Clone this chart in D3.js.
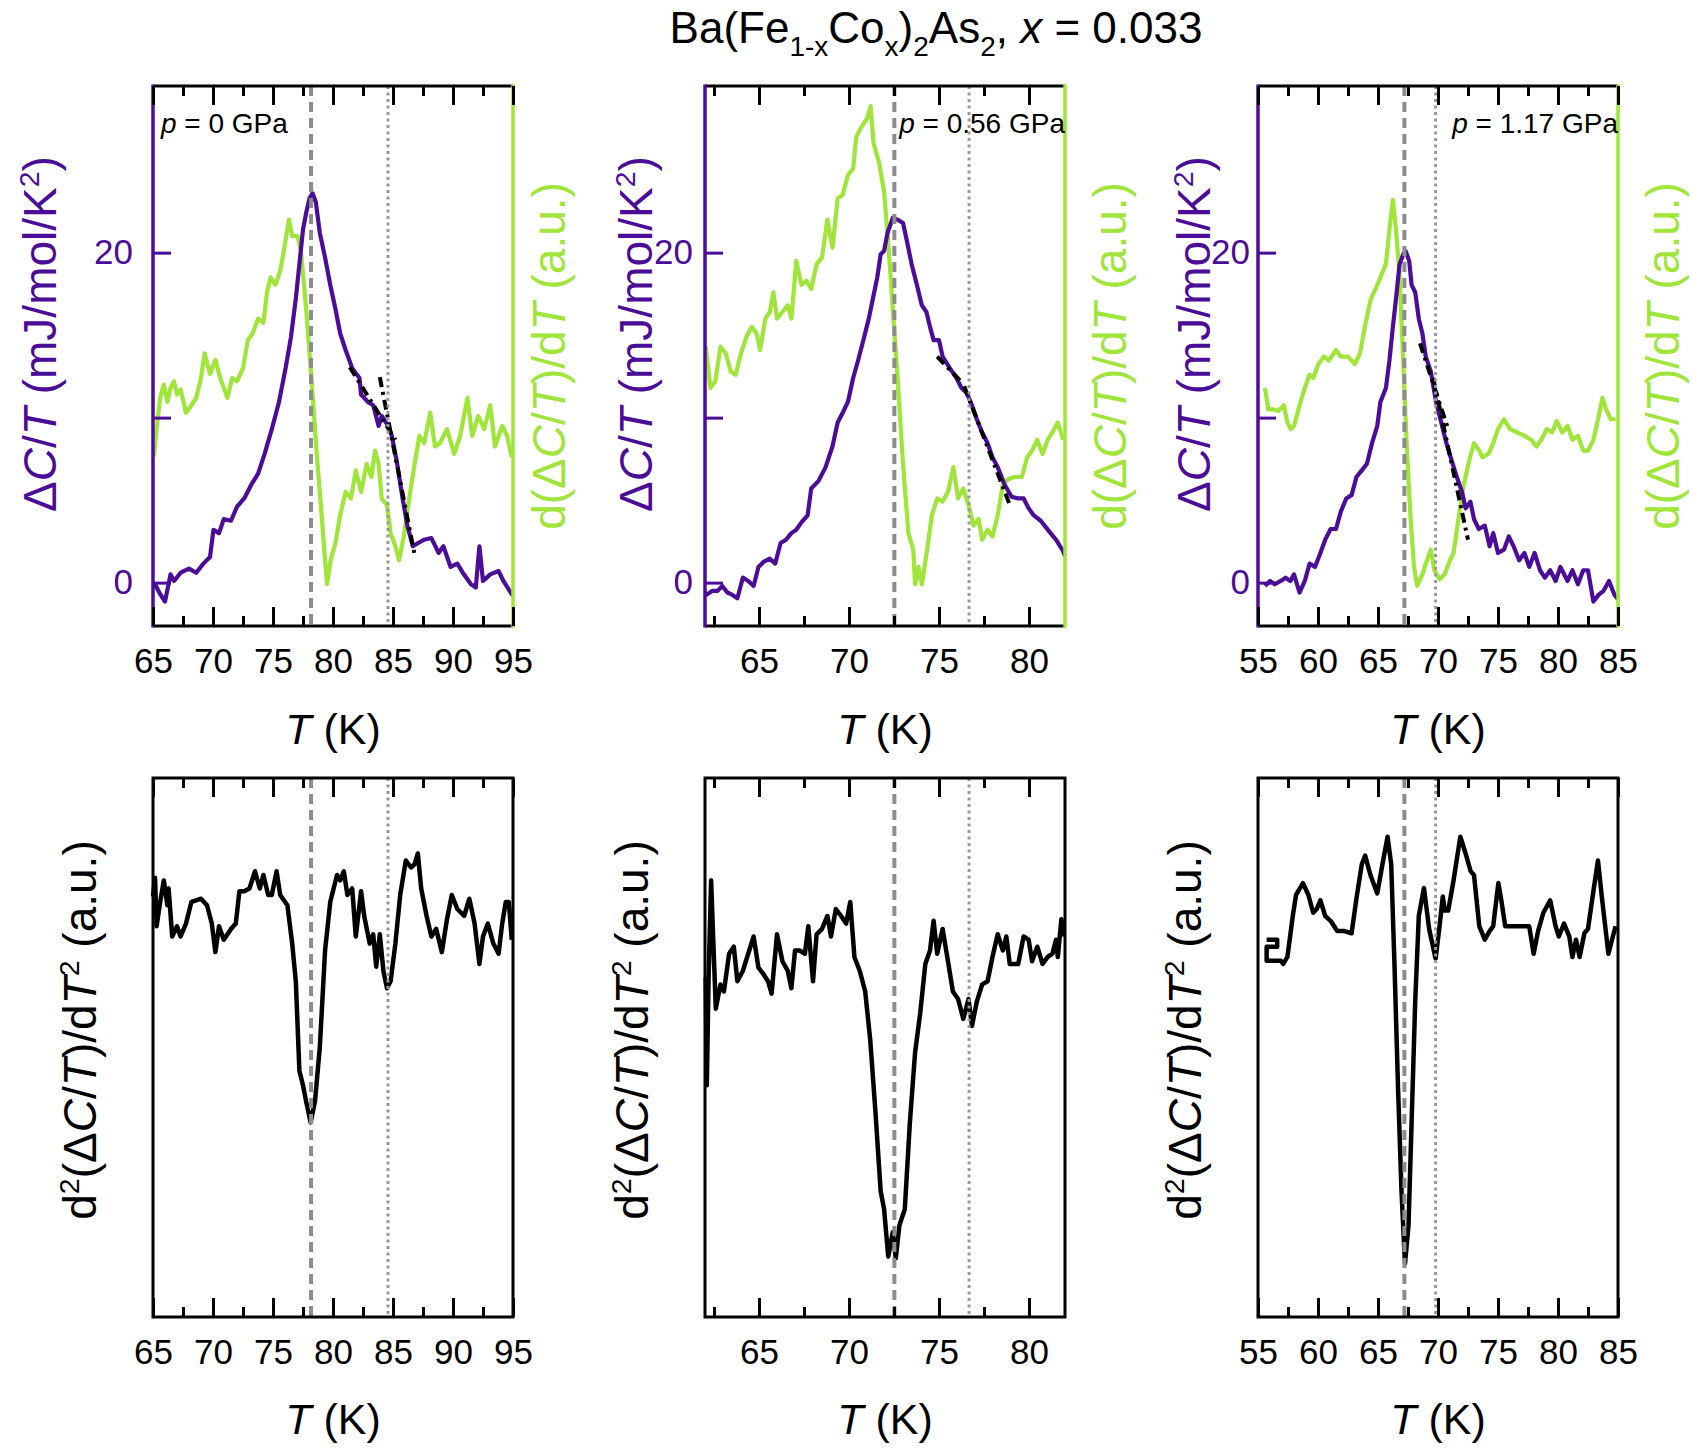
<!DOCTYPE html>
<html>
<head>
<meta charset="utf-8">
<script src="https://cdn.jsdelivr.net/npm/d3@7"></script>
<style>
  body { margin: 0; background: #fff; }
  svg { font-family: "Liberation Sans", Arial, Helvetica, sans-serif; }
</style>
</head>
<body>
<svg id="chart" width="1694" height="1448"></svg>
<script>
// temperature windows of the three pressures
const xDomains = [[65, 95], [62, 82], [55, 85]]
const pressures = ['0', '0.56', '1.17']
const tsDashed = [78.17, 72.52, 67.2]
const tsDotted = [84.58, 76.67, 69.8]
const yTicks = [0, 10, 20]

// ΔC/T (mJ/mol/K^2), p = 0
const dcT0 = [[65.0,-0.3],[65.17,-0.1],[65.6,-0.7],[66.0,-1.15],[66.46,0.5],[66.75,0.1],[67.3,0.6],[68.0,0.85],[68.6,0.6],[69.2,1.15],[69.75,1.55],[70.04,3.2],[70.5,3.0],[70.9,3.85],[71.5,3.75],[72.0,4.6],[72.6,5.1],[73.2,5.95],[73.76,6.6],[74.3,7.8],[74.9,9.3],[75.5,10.95],[76.05,13.0],[76.5,14.9],[76.9,17.2],[77.2,19.3],[77.5,21.4],[77.76,22.4],[78.05,23.3],[78.3,23.6],[78.57,23.05],[78.9,21.2],[79.34,19.7],[79.77,18.05],[80.2,16.6],[80.6,15.1],[81.05,14.1],[81.6,13.0],[82.2,12.4],[82.34,11.4],[82.9,10.95],[83.35,10.75],[83.8,9.5],[84.06,10.1],[84.5,9.6],[84.9,8.9],[85.35,7.2],[85.8,5.1],[86.2,3.45],[86.65,2.2],[87.1,2.4],[87.6,2.6],[88.2,2.7],[88.8,1.8],[89.2,2.2],[89.8,0.95],[90.36,1.15],[90.9,0.5],[91.5,-0.1],[91.9,-0.3],[92.2,2.2],[92.5,0.1],[93.1,0.5],[93.8,0.7],[94.2,0.1],[94.8,-0.6],[95.0,-0.8]]
// d(ΔC/T)/dT (a.u.), p = 0
const dDeriv0 = [[65.0,7.6],[65.1,7.8],[65.3,9.3],[65.6,11.2],[65.9,12.0],[66.2,10.95],[66.46,11.8],[66.75,12.2],[67.0,11.4],[67.3,11.7],[67.75,10.3],[68.2,10.75],[68.6,11.2],[69.0,12.4],[69.3,13.9],[69.75,12.65],[70.2,13.5],[70.6,12.4],[71.2,11.2],[71.6,12.4],[72.0,12.2],[72.5,13.0],[72.9,14.7],[73.3,15.1],[73.76,16.0],[74.2,15.75],[74.5,17.6],[74.8,18.5],[75.2,18.05],[75.6,18.9],[75.9,20.1],[76.33,22.0],[76.6,21.0],[77.05,21.0],[77.33,20.1],[77.76,16.6],[78.2,12.4],[78.6,8.25],[79.05,4.1],[79.5,-0.1],[79.8,1.35],[80.2,2.4],[80.6,4.1],[81.05,5.5],[81.5,5.1],[81.9,6.8],[82.34,5.5],[82.8,7.2],[83.2,6.4],[83.5,8.0],[83.8,7.2],[84.06,5.1],[84.5,4.7],[84.8,3.0],[85.2,2.2],[85.5,1.35],[85.9,2.8],[86.35,5.1],[86.8,7.2],[87.2,8.9],[87.6,8.45],[88.1,10.3],[88.5,8.25],[88.9,8.45],[89.5,9.3],[90.1,7.8],[90.6,8.9],[91.2,11.2],[91.6,8.9],[92.1,10.1],[92.6,9.3],[93.1,10.75],[93.5,8.25],[94.1,9.5],[94.5,8.9],[94.9,7.6]]
// d2(ΔC/T)/dT2 (a.u.), p = 0
const d2nd0 = [[65.0,0.78],[65.17,0.815],[65.3,0.725],[65.6,0.77],[65.9,0.81],[66.2,0.764],[66.3,0.795],[66.6,0.706],[67.0,0.725],[67.3,0.706],[67.75,0.73],[68.2,0.77],[68.6,0.773],[69.0,0.776],[69.5,0.764],[69.9,0.73],[70.2,0.677],[70.5,0.725],[70.9,0.7],[71.5,0.72],[71.9,0.73],[72.2,0.79],[72.6,0.79],[73.04,0.795],[73.5,0.827],[73.9,0.795],[74.2,0.82],[74.6,0.783],[74.9,0.783],[75.3,0.827],[75.6,0.783],[76.2,0.764],[76.6,0.693],[76.9,0.623],[77.2,0.457],[77.5,0.43],[77.76,0.4],[78.14,0.361],[78.5,0.4],[78.9,0.5],[79.34,0.68],[79.77,0.77],[80.05,0.795],[80.34,0.82],[80.6,0.81],[80.9,0.827],[81.2,0.783],[81.6,0.795],[81.9,0.706],[82.34,0.79],[82.6,0.744],[83.06,0.693],[83.35,0.71],[83.6,0.65],[83.9,0.71],[84.2,0.642],[84.5,0.61],[84.8,0.623],[85.2,0.693],[85.6,0.783],[86.07,0.847],[86.5,0.834],[86.8,0.84],[87.07,0.86],[87.35,0.795],[87.8,0.744],[88.2,0.706],[88.6,0.72],[89.07,0.677],[89.5,0.738],[89.9,0.783],[90.36,0.757],[90.93,0.744],[91.36,0.776],[91.8,0.73],[92.2,0.655],[92.5,0.706],[92.9,0.73],[93.36,0.693],[93.8,0.674],[94.1,0.73],[94.4,0.77],[94.65,0.77],[94.9,0.7]]

// p = 0.56 GPa
const dcT1 = [[62.0,-0.6],[62.1,-0.73],[62.4,-0.5],[62.7,-0.5],[62.96,-0.2],[63.24,-0.6],[63.5,-0.73],[63.8,-0.95],[64.1,0.3],[64.4,0.1],[64.7,-0.2],[64.97,0.95],[65.25,1.25],[65.6,1.45],[65.9,1.15],[66.2,2.4],[66.5,2.6],[66.8,3.0],[67.07,3.2],[67.36,3.65],[67.7,4.07],[67.9,5.7],[68.3,6.15],[68.7,7.0],[69.08,8.25],[69.37,9.7],[69.65,10.3],[69.94,10.95],[70.23,12.4],[70.5,13.45],[70.8,14.7],[71.1,16.0],[71.4,17.6],[71.57,18.5],[71.76,19.9],[71.95,20.1],[72.14,21.2],[72.43,22.1],[72.7,22.0],[73.0,21.8],[73.2,20.8],[73.48,19.3],[73.77,18.05],[74.05,16.8],[74.3,16.4],[74.5,15.5],[74.7,14.7],[75.0,14.7],[75.2,13.7],[75.6,13.0],[75.97,12.4],[76.25,11.8],[76.54,11.5],[76.83,10.75],[77.1,9.9],[77.4,9.1],[77.7,8.45],[77.97,7.6],[78.26,7.0],[78.64,5.95],[79.03,5.2],[79.4,5.1],[79.7,5.1],[79.98,4.5],[80.27,4.07],[80.65,3.75],[80.94,3.35],[81.2,3.0],[81.5,2.6],[81.9,1.9],[82.0,1.6]]
const dDeriv1 = [[62.04,14.3],[62.3,11.8],[62.57,12.2],[62.86,14.3],[63.15,13.9],[63.43,12.8],[63.7,12.6],[64.0,13.9],[64.3,14.9],[64.6,15.5],[64.87,15.1],[65.06,14.1],[65.35,16.0],[65.6,16.4],[65.8,17.6],[66.0,16.0],[66.3,16.4],[66.6,16.8],[66.8,16.0],[67.07,19.5],[67.36,18.05],[67.64,18.3],[67.9,17.8],[68.2,19.3],[68.5,19.7],[68.8,22.0],[69.08,20.3],[69.37,23.3],[69.65,23.5],[69.94,24.7],[70.23,25.1],[70.4,27.0],[70.7,27.65],[71.0,28.1],[71.2,28.9],[71.37,26.6],[71.66,25.5],[71.95,23.7],[72.24,19.7],[72.5,15.5],[72.7,12.4],[73.0,7.2],[73.3,3.0],[73.57,2.0],[73.67,-0.1],[73.86,0.95],[74.05,-0.1],[74.34,2.0],[74.6,4.07],[74.9,5.1],[75.2,4.9],[75.5,5.5],[75.8,7.0],[76.06,5.1],[76.35,5.7],[76.64,4.7],[76.92,3.45],[77.2,3.85],[77.4,2.6],[77.7,3.2],[77.97,2.8],[78.26,4.07],[78.55,5.95],[78.84,6.26],[79.2,6.4],[79.6,6.4],[79.9,7.6],[80.17,8.0],[80.46,8.66],[80.75,7.8],[81.04,8.66],[81.3,9.1],[81.6,9.7],[81.9,8.66]]
const d2nd1 = [[62.04,0.63],[62.1,0.43],[62.2,0.63],[62.34,0.81],[62.48,0.68],[62.6,0.572],[62.86,0.617],[63.05,0.604],[63.34,0.674],[63.6,0.687],[63.8,0.623],[64.1,0.642],[64.4,0.674],[64.7,0.706],[64.97,0.648],[65.25,0.636],[65.5,0.623],[65.7,0.6],[66.0,0.71],[66.3,0.66],[66.6,0.642],[66.8,0.61],[67.0,0.68],[67.26,0.68],[67.55,0.674],[67.74,0.725],[68.0,0.623],[68.2,0.71],[68.5,0.72],[68.8,0.744],[69.0,0.706],[69.27,0.757],[69.56,0.744],[69.84,0.73],[70.07,0.77],[70.3,0.668],[70.6,0.642],[70.9,0.604],[71.18,0.514],[71.47,0.38],[71.76,0.233],[71.95,0.2],[72.18,0.112],[72.43,0.157],[72.6,0.109],[72.8,0.17],[73.1,0.2],[73.38,0.36],[73.67,0.49],[73.96,0.565],[74.24,0.655],[74.5,0.68],[74.7,0.735],[74.9,0.674],[75.2,0.72],[75.5,0.66],[75.77,0.604],[76.06,0.59],[76.35,0.553],[76.64,0.59],[76.83,0.54],[77.1,0.585],[77.4,0.617],[77.7,0.623],[77.97,0.668],[78.26,0.71],[78.55,0.68],[78.74,0.706],[78.93,0.655],[79.4,0.655],[79.7,0.706],[79.98,0.7],[80.17,0.66],[80.46,0.687],[80.75,0.655],[81.04,0.668],[81.3,0.674],[81.5,0.7],[81.6,0.668],[81.8,0.738],[81.93,0.706]]

// p = 1.17 GPa
const dcT2 = [[55.58,-0.2],[56.0,0.1],[56.4,-0.1],[56.9,0.1],[57.3,0.3],[57.7,0.1],[58.0,0.5],[58.46,-0.6],[58.9,0.1],[59.3,1.15],[59.75,0.95],[60.2,1.8],[60.6,2.6],[61.05,3.25],[61.5,3.25],[61.9,4.3],[62.35,5.1],[62.8,5.3],[63.2,6.4],[63.65,6.8],[64.08,7.2],[64.5,8.45],[64.94,9.5],[65.2,10.95],[65.66,11.8],[65.95,13.45],[66.24,15.5],[66.5,17.2],[66.8,19.3],[67.1,19.9],[67.3,20.1],[67.6,19.5],[67.8,18.05],[68.1,17.6],[68.4,16.0],[68.7,15.1],[68.98,13.7],[69.4,12.8],[69.84,10.95],[70.27,9.7],[70.7,8.45],[71.14,7.4],[71.57,6.4],[72.0,5.5],[72.3,4.5],[72.7,4.9],[73.0,3.85],[73.4,3.25],[73.9,3.45],[74.3,2.2],[74.6,3.0],[75.0,1.8],[75.5,2.0],[75.9,2.8],[76.3,2.2],[76.76,1.35],[77.2,1.8],[77.6,0.95],[78.05,1.8],[78.5,0.75],[78.9,0.3],[79.35,0.75],[79.8,0.1],[80.2,0.95],[80.8,0.1],[81.2,0.75],[81.66,-0.1],[82.1,0.75],[82.5,0.75],[82.95,-1.15],[83.4,-0.73],[83.8,-0.5],[84.25,0.1],[84.7,-0.73],[85.0,-1.0]]
const dDeriv2 = [[55.58,11.8],[55.86,10.5],[56.3,10.5],[56.7,10.4],[57.16,10.75],[57.45,9.7],[57.74,9.3],[58.0,9.5],[58.46,10.75],[58.9,11.8],[59.3,12.6],[59.6,12.4],[60.04,13.25],[60.5,13.7],[60.9,13.45],[61.5,14.1],[61.9,13.7],[62.5,13.7],[63.07,13.25],[63.5,13.9],[63.9,15.5],[64.4,17.2],[64.8,17.8],[65.2,18.5],[65.66,19.3],[65.95,21.4],[66.24,23.2],[66.5,21.4],[66.8,18.5],[67.1,13.45],[67.4,8.25],[67.7,4.07],[68.0,0.95],[68.26,-0.2],[68.7,0.5],[68.98,1.15],[69.4,2.0],[69.7,0.75],[70.13,0.2],[70.56,0.5],[71.0,1.35],[71.3,1.8],[71.7,3.85],[72.15,5.95],[72.6,7.4],[73.0,8.45],[73.44,8.0],[73.7,7.6],[74.2,7.8],[74.6,8.45],[75.0,9.3],[75.5,9.9],[76.0,9.3],[76.6,9.1],[77.2,8.9],[77.77,8.66],[78.2,8.25],[78.6,8.66],[79.06,9.3],[79.5,9.1],[79.9,9.8],[80.36,9.1],[80.8,9.5],[81.2,8.66],[81.66,8.9],[82.1,8.0],[82.5,8.0],[82.95,8.66],[83.4,10.1],[83.7,11.2],[84.0,10.5],[84.4,9.9],[84.8,9.9]]
const d2nd2 = [[55.72,0.70],[56.6,0.70],[56.6,0.687],[55.72,0.687],[55.72,0.661],[56.9,0.661],[57.1,0.655],[57.45,0.668],[57.9,0.744],[58.17,0.783],[58.75,0.805],[59.2,0.783],[59.6,0.75],[59.9,0.757],[60.2,0.773],[60.6,0.744],[61.05,0.735],[61.6,0.716],[62.2,0.716],[62.8,0.712],[63.2,0.776],[63.65,0.84],[63.93,0.856],[64.37,0.82],[64.94,0.786],[65.37,0.84],[65.8,0.891],[66.1,0.84],[66.38,0.649],[66.67,0.425],[66.96,0.233],[67.25,0.099],[67.54,0.169],[67.8,0.361],[68.1,0.585],[68.4,0.744],[68.83,0.796],[69.27,0.719],[69.8,0.665],[70.13,0.725],[70.4,0.78],[70.56,0.754],[70.85,0.754],[71.28,0.808],[71.86,0.891],[72.3,0.86],[72.72,0.827],[73.0,0.82],[73.44,0.725],[73.9,0.7],[74.3,0.716],[74.6,0.725],[75.03,0.805],[75.3,0.77],[75.6,0.725],[76.47,0.725],[77.6,0.725],[77.97,0.674],[78.34,0.716],[78.78,0.75],[79.35,0.773],[79.8,0.725],[80.07,0.706],[80.5,0.73],[80.94,0.706],[81.2,0.668],[81.5,0.7],[81.8,0.668],[82.2,0.712],[82.5,0.72],[82.95,0.79],[83.33,0.847],[83.67,0.776],[84.2,0.674],[84.5,0.7],[84.8,0.725]]

// linear fits above and below the structural transition
const fitsA = [[[81.4, 13.05], [85.2, 8.65]], [[74.9, 13.7], [76.3, 12.1]], [[68.5, 14.5], [70.8, 9.4]]]
const fitsB = [[[83.9, 12.45], [86.8, 1.7]], [[76.4, 11.9], [78.9, 4.8]], [[69.6, 12.4], [72.5, 2.6]]]

const dcT = [dcT0, dcT1, dcT2]
const dDeriv = [dDeriv0, dDeriv1, dDeriv2]
const d2nd = [d2nd0, d2nd1, d2nd2]

// layout
const purple = '#4b0c97'
const green = '#9fe53a'
const grey = '#8c8c8c'
const lefts = [153, 705, 1258]
const plotW = 360
const topRow = [86, 626]
const botRow = [778, 1317]
const yLabelPad = [20, 12, 8]
const purpleLabelX = [56, 652, 1210]
const greenLabelX = [565, 1126, 1679]

const svg = d3.select('#chart')

// title
const title = svg.append('text')
	.attr('x', 936).attr('y', 43)
	.attr('text-anchor', 'middle').attr('font-size', 44)
const titleParts = [
	['Ba(Fe', 0], ['1-x', 1], ['Co', 0], ['x', 1], [')', 0], ['2', 1], ['As', 0], ['2', 1], [', ', 0], ['x', 2], [' = 0.033', 0]
]
let shifted = false
titleParts.forEach(([t, kind]) => {
	const ts = title.append('tspan').text(t)
	if (kind === 1) {
		ts.attr('font-size', 28).attr('dy', shifted ? 0 : 13)
		shifted = true
	} else {
		if (shifted) ts.attr('dy', -13)
		shifted = false
		if (kind === 2) ts.attr('font-style', 'italic')
	}
})

function richText(sel, parts, size) {
	let sup = false
	parts.forEach(([t, kind]) => {
		const ts = sel.append('tspan').text(t)
		if (kind === 'sup') {
			ts.attr('font-size', size * 0.62).attr('dy', -size * 0.38)
			sup = true
		} else {
			if (sup) ts.attr('dy', size * 0.38)
			sup = false
			if (kind === 'it') ts.attr('font-style', 'italic')
		}
	})
}

function xTicks(d) {
	const all = d3.range(Math.ceil(d[0] / 2.5) * 2.5, d[1] + 1e-9, 2.5)
	return { major: all.filter(v => v % 5 === 0), minor: all.filter(v => v % 5 !== 0) }
}

function xAxes(g, x, rows) {
	const t = xTicks(x.domain())
	const fix = a => a.call(s => s.select('.domain').remove())
		.call(s => s.selectAll('.tick line').attr('stroke-width', 3))
		.attr('font-size', 35).attr('font-family', null).style('color', '#000')
	fix(g.append('g').attr('transform', `translate(0,${rows[1]})`)
		.call(d3.axisBottom(x).tickValues(t.major).tickSizeInner(-19).tickSizeOuter(0).tickPadding(22)))
	fix(g.append('g').attr('transform', `translate(0,${rows[1]})`)
		.call(d3.axisBottom(x).tickValues(t.minor).tickSizeInner(-10).tickSizeOuter(0).tickFormat('')))
	fix(g.append('g').attr('transform', `translate(0,${rows[0]})`)
		.call(d3.axisTop(x).tickValues(t.major).tickSizeInner(-19).tickSizeOuter(0).tickFormat('')))
	fix(g.append('g').attr('transform', `translate(0,${rows[0]})`)
		.call(d3.axisTop(x).tickValues(t.minor).tickSizeInner(-10).tickSizeOuter(0).tickFormat('')))
}

function markers(g, x, rows, i) {
	g.append('line')
		.attr('x1', x(tsDashed[i])).attr('x2', x(tsDashed[i]))
		.attr('y1', rows[0]).attr('y2', rows[1])
		.attr('stroke', grey).attr('stroke-width', 4).attr('stroke-dasharray', '10,6')
	g.append('line')
		.attr('x1', x(tsDotted[i])).attr('x2', x(tsDotted[i]))
		.attr('y1', rows[0]).attr('y2', rows[1])
		.attr('stroke', '#999').attr('stroke-width', 3).attr('stroke-dasharray', '3,3.5')
}

function xTitle(g, x, yBase) {
	const t = g.append('text').attr('x', (x.range()[0] + x.range()[1]) / 2).attr('y', yBase)
		.attr('text-anchor', 'middle').attr('font-size', 43)
	richText(t, [['T', 'it'], [' (K)', '']], 43)
}

for (let i = 0; i < 3; i++) {
	const x = d3.scaleLinear().domain(xDomains[i]).range([lefts[i], lefts[i] + plotW])
	const y = d3.scaleLinear().domain([-2.63, 30.1]).range([topRow[1], topRow[0]])
	const y2 = d3.scaleLinear().domain([-2.63, 30.1]).range([topRow[1], topRow[0]])
	const yb = d3.scaleLinear().domain([0, 1]).range([botRow[1], botRow[0]])

	// ---- upper panel ----
	const top = svg.append('g')
	top.append('path').datum(dDeriv[i])
		.attr('d', d3.line().x(d => x(d[0])).y(d => y2(d[1])))
		.attr('fill', 'none').attr('stroke', green).attr('stroke-width', 4.2).attr('stroke-linejoin', 'round')
	top.append('path').datum(dcT[i])
		.attr('d', d3.line().x(d => x(d[0])).y(d => y(d[1])))
		.attr('fill', 'none').attr('stroke', purple).attr('stroke-width', 4.2).attr('stroke-linejoin', 'round')
	;[fitsA[i], fitsB[i]].forEach(f => {
		top.append('path').datum(f)
			.attr('d', d3.line().x(d => x(d[0])).y(d => y(d[1])))
			.attr('fill', 'none').attr('stroke', '#000').attr('stroke-width', 4)
			.attr('stroke-dasharray', '10,5,3,5')
	})
	markers(top, x, topRow, i)

	// frame
	top.append('line').attr('x1', x.range()[0]).attr('x2', x.range()[1]).attr('y1', topRow[0]).attr('y2', topRow[0])
		.attr('stroke', '#000').attr('stroke-width', 3)
	top.append('line').attr('x1', x.range()[0]).attr('x2', x.range()[1]).attr('y1', topRow[1]).attr('y2', topRow[1])
		.attr('stroke', '#000').attr('stroke-width', 3)
	top.append('line').attr('x1', x.range()[0]).attr('x2', x.range()[0]).attr('y1', topRow[0] - 1.5).attr('y2', topRow[1] + 1.5)
		.attr('stroke', purple).attr('stroke-width', 3.5)
	top.append('line').attr('x1', x.range()[1]).attr('x2', x.range()[1]).attr('y1', topRow[0] - 1.5).attr('y2', topRow[1] + 1.5)
		.attr('stroke', green).attr('stroke-width', 3.5)

	xAxes(top, x, topRow)
	top.append('g').attr('transform', `translate(${x.range()[0]},0)`)
		.call(d3.axisLeft(y).tickValues(yTicks).tickSizeInner(-18).tickSizeOuter(0)
			.tickPadding(yLabelPad[i]).tickFormat(d => d === 10 ? '' : d))
		.call(s => s.select('.domain').remove())
		.call(s => s.selectAll('.tick line').attr('stroke-width', 3))
		.attr('font-size', 35).attr('font-family', null).style('color', purple)

	xTitle(top, x, 744)

	const pl = top.append('text').attr('y', 133).attr('font-size', 28)
	if (i === 0) pl.attr('x', x.range()[0] + 8)
	else pl.attr('x', x.range()[1]).attr('text-anchor', 'end')
	richText(pl, [['p', 'it'], [` = ${pressures[i]} GPa`, '']], 28)

	const ly = top.append('text').attr('font-size', 46).attr('fill', purple).attr('text-anchor', 'middle')
		.attr('transform', `translate(${purpleLabelX[i]},334) rotate(-90)`)
	richText(ly, [['Δ', ''], ['C', 'it'], ['/', ''], ['T', 'it'], [' (mJ/mol/K', ''], ['2', 'sup'], [')', '']], 46)

	const ry = top.append('text').attr('font-size', 46).attr('fill', green).attr('text-anchor', 'middle')
		.attr('transform', `translate(${greenLabelX[i]},356) rotate(-90)`)
	richText(ry, [['d(Δ', ''], ['C', 'it'], ['/', ''], ['T', 'it'], [')/d', ''], ['T', 'it'], [' (a.u.)', '']], 46)

	// ---- lower panel ----
	const bot = svg.append('g')
	bot.append('path').datum(d2nd[i])
		.attr('d', d3.line().x(d => x(d[0])).y(d => yb(d[1])))
		.attr('fill', 'none').attr('stroke', '#000').attr('stroke-width', 4.5).attr('stroke-linejoin', 'round')
	markers(bot, x, botRow, i)
	bot.append('rect')
		.attr('x', x.range()[0]).attr('y', botRow[0])
		.attr('width', plotW).attr('height', botRow[1] - botRow[0])
		.attr('fill', 'none').attr('stroke', '#000').attr('stroke-width', 3)
	xAxes(bot, x, botRow)
	xTitle(bot, x, 1434)

	const by = bot.append('text').attr('font-size', 46).attr('text-anchor', 'middle')
		.attr('transform', `translate(${x.range()[0] - 57},1030) rotate(-90)`)
	richText(by, [['d', ''], ['2', 'sup'], ['(Δ', ''], ['C', 'it'], ['/', ''], ['T', 'it'], [')/d', ''], ['T', 'it'], ['2', 'sup'], [' (a.u.)', '']], 46)
}
</script>
</body>
</html>
